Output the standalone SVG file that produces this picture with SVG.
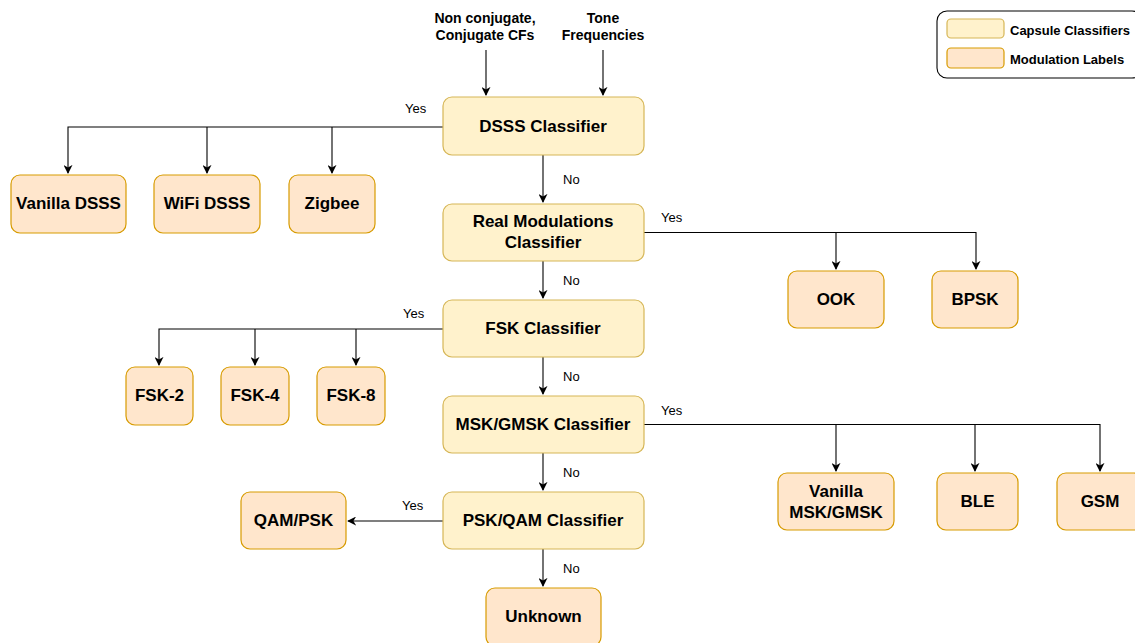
<svg xmlns="http://www.w3.org/2000/svg" width="1135" height="643" viewBox="0 0 1135 643">
<defs>
<marker id="arr" viewBox="0 0 10 10" refX="9" refY="5" markerWidth="9" markerHeight="9" markerUnits="userSpaceOnUse" orient="auto">
<path d="M0,0 L10,5 L0,10 L3,5 Z" fill="#000"/>
</marker>
<style>
.cls{fill:#fff2cc;stroke:#d6b656;stroke-width:1.2}
.mod{fill:#ffe6cc;stroke:#d79b00;stroke-width:1.2}
.t{font-family:"Liberation Sans",Arial,sans-serif;font-weight:bold;font-size:17px;fill:#000;text-anchor:middle;dominant-baseline:central}
.in{font-family:"Liberation Sans",Arial,sans-serif;font-weight:bold;font-size:14px;fill:#000;text-anchor:middle}
.lg{font-family:"Liberation Sans",Arial,sans-serif;font-weight:bold;font-size:13px;fill:#000;dominant-baseline:central}
.yn{font-family:"Liberation Sans",Arial,sans-serif;font-size:13px;fill:#000}
.c{fill:none;stroke:#000;stroke-width:1.1}
</style>
</defs>
<rect width="1135" height="643" fill="#fff"/>

<g id="connectors">
<path class="c" d="M486,50 V95" marker-end="url(#arr)"/>
<path class="c" d="M603,50 V95" marker-end="url(#arr)"/>
<path class="c" d="M443,127 H68 V173" marker-end="url(#arr)"/>
<path class="c" d="M207,127 V173" marker-end="url(#arr)"/>
<path class="c" d="M332,127 V173" marker-end="url(#arr)"/>
<path class="c" d="M543,155 V202" marker-end="url(#arr)"/>
<path class="c" d="M644,232.5 H976 V269" marker-end="url(#arr)"/>
<path class="c" d="M836,232.5 V269" marker-end="url(#arr)"/>
<path class="c" d="M543,261 V298" marker-end="url(#arr)"/>
<path class="c" d="M443,329 H159 V365" marker-end="url(#arr)"/>
<path class="c" d="M255,329 V365" marker-end="url(#arr)"/>
<path class="c" d="M356,329 V365" marker-end="url(#arr)"/>
<path class="c" d="M543,357 V394" marker-end="url(#arr)"/>
<path class="c" d="M644,424.5 H1100 V471" marker-end="url(#arr)"/>
<path class="c" d="M836,424.5 V471" marker-end="url(#arr)"/>
<path class="c" d="M975,424.5 V471" marker-end="url(#arr)"/>
<path class="c" d="M543,453 V490" marker-end="url(#arr)"/>
<path class="c" d="M443,521 H348" marker-end="url(#arr)"/>
<path class="c" d="M543,549 V586" marker-end="url(#arr)"/>
<text class="yn" x="405" y="113">Yes</text>
<text class="yn" x="563" y="184">No</text>
<text class="yn" x="661" y="222">Yes</text>
<text class="yn" x="563" y="285">No</text>
<text class="yn" x="403" y="318">Yes</text>
<text class="yn" x="563" y="381">No</text>
<text class="yn" x="661" y="415">Yes</text>
<text class="yn" x="563" y="477">No</text>
<text class="yn" x="402" y="510">Yes</text>
<text class="yn" x="563" y="573">No</text>
</g>

<g id="input-cf"><text class="in" x="485" y="23">Non conjugate,</text><text class="in" x="485" y="40">Conjugate CFs</text></g>
<g id="input-tone"><text class="in" x="603" y="23">Tone</text><text class="in" x="603" y="40">Frequencies</text></g>

<g id="dsss"><rect class="cls" x="443" y="97" width="201" height="58" rx="9"/><text class="t" x="543" y="126">DSSS Classifier</text></g>
<g id="real"><rect class="cls" x="443" y="204" width="201" height="57" rx="9"/><text class="t" x="543" y="221">Real Modulations</text><text class="t" x="543" y="242">Classifier</text></g>
<g id="fsk"><rect class="cls" x="443" y="300" width="201" height="57" rx="9"/><text class="t" x="543" y="328">FSK Classifier</text></g>
<g id="msk"><rect class="cls" x="443" y="396" width="201" height="57" rx="9"/><text class="t" x="543" y="424">MSK/GMSK Classifier</text></g>
<g id="psk"><rect class="cls" x="443" y="492" width="201" height="57" rx="9"/><text class="t" x="543" y="520">PSK/QAM Classifier</text></g>

<g id="vanilla-dsss"><rect class="mod" x="11" y="175" width="115" height="58" rx="9"/><text class="t" x="68.5" y="203">Vanilla DSSS</text></g>
<g id="wifi-dsss"><rect class="mod" x="154" y="175" width="106" height="58" rx="9"/><text class="t" x="207" y="203">WiFi DSSS</text></g>
<g id="zigbee"><rect class="mod" x="289" y="175" width="86" height="58" rx="9"/><text class="t" x="332" y="203">Zigbee</text></g>
<g id="ook"><rect class="mod" x="788" y="271" width="96" height="57" rx="9"/><text class="t" x="836" y="299">OOK</text></g>
<g id="bpsk"><rect class="mod" x="932" y="271" width="86" height="57" rx="9"/><text class="t" x="975" y="299">BPSK</text></g>
<g id="fsk2"><rect class="mod" x="126" y="367" width="67" height="58" rx="9"/><text class="t" x="159.5" y="395">FSK-2</text></g>
<g id="fsk4"><rect class="mod" x="221" y="367" width="68" height="58" rx="9"/><text class="t" x="255" y="395">FSK-4</text></g>
<g id="fsk8"><rect class="mod" x="317" y="367" width="68" height="58" rx="9"/><text class="t" x="351" y="395">FSK-8</text></g>
<g id="vanilla-msk"><rect class="mod" x="778" y="473" width="116" height="57" rx="9"/><text class="t" x="836" y="491">Vanilla</text><text class="t" x="836" y="512">MSK/GMSK</text></g>
<g id="ble"><rect class="mod" x="937" y="473" width="81" height="57" rx="9"/><text class="t" x="977.5" y="501">BLE</text></g>
<g id="gsm"><rect class="mod" x="1057" y="473" width="86" height="57" rx="9"/><text class="t" x="1100" y="501">GSM</text></g>
<g id="qampsk"><rect class="mod" x="241" y="492" width="105" height="57" rx="9"/><text class="t" x="293.5" y="520">QAM/PSK</text></g>
<g id="unknown"><rect class="mod" x="486" y="588" width="115" height="58" rx="9"/><text class="t" x="543.5" y="616">Unknown</text></g>

<g id="legend">
<rect x="937" y="11" width="205" height="67" rx="10" fill="#fff" stroke="#000" stroke-width="1.1"/>
<rect class="cls" x="947" y="19" width="57" height="19" rx="4"/>
<text class="lg" x="1010" y="30">Capsule Classifiers</text>
<rect class="mod" x="947" y="48" width="57" height="20" rx="4"/>
<text class="lg" x="1010" y="59">Modulation Labels</text>
</g>
</svg>
